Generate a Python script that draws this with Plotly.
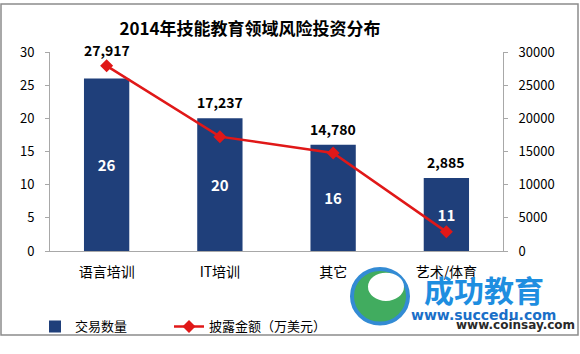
import plotly.graph_objects as go

categories = ["语言培训", "IT培训", "其它", "艺术/体育"]
deal_counts = [26, 20, 16, 11]
amounts = [27917, 17237, 14780, 2885]

FONT = "Noto Sans CJK SC"
BAR_COLOR = "#1F3F7A"
LINE_COLOR = "#E01818"

# plot area in pixels
L, R, T, B = 50, 503, 52, 263
W, H = 580, 354
def px(x):
    return (x - L) / (R - L)
def py(y):
    return (B - y) / (B - T)

fig = go.Figure()
fig.add_trace(go.Bar(
    x=categories, y=deal_counts, name="交易数量",
    marker=dict(color=BAR_COLOR, line=dict(width=0)),
    text=[f"<b>{v}</b>" for v in deal_counts], textposition="inside",
    insidetextanchor="middle",
    textfont=dict(color="white", size=15, family=FONT),
    width=0.4, legend="legend",
))
fig.add_trace(go.Scatter(
    x=categories, y=amounts, name="披露金额（万美元）", yaxis="y2",
    mode="lines+markers",
    line=dict(color=LINE_COLOR, width=2.5),
    marker=dict(symbol="diamond", size=10, color=LINE_COLOR),
    legend="legend2",
))

annotations = []
for c, n, a in zip(categories, deal_counts, amounts):
    top = max(n * 1000, a)
    annotations.append(dict(
        x=c, y=top, xref="x", yref="y2", text=f"<b>{a:,}</b>",
        showarrow=False, yanchor="bottom", yshift=4,
        font=dict(size=14, color="black", family=FONT)))

annotations += [
    dict(text="<b>成功教育</b>", xref="paper", yref="paper", x=px(484), y=py(303),
         xanchor="center", yanchor="middle",
         showarrow=False, font=dict(size=30, color="#1E8EE0", family=FONT)),
    dict(text="<b>www.succedu.com</b>", xref="paper", yref="paper", x=px(483), y=py(331),
         xanchor="center", yanchor="middle",
         showarrow=False, font=dict(size=14, color="#1A6FC8", family="DejaVu Sans")),
    dict(text="<b>www.coinsay.com</b>", xref="paper", yref="paper", x=px(515), y=py(341),
         xanchor="center", yanchor="middle",
         showarrow=False, font=dict(size=12, color="#2A2A2A", family="DejaVu Sans")),
]

legend_common = dict(orientation="h", yanchor="middle", xanchor="left",
                     font=dict(size=13), bgcolor="rgba(0,0,0,0)", itemwidth=30)

fig.update_layout(
    width=W, height=H,
    margin=dict(l=L, r=W - R, t=T, b=H - B),
    paper_bgcolor="white", plot_bgcolor="white",
    font=dict(family=FONT, color="black"),
    title=dict(text="<b>2014年技能教育领域风险投资分布</b>", x=px(250), xref="paper",
               xanchor="center", y=1 - 29 / H, yanchor="middle",
               font=dict(size=17, family=FONT)),
    xaxis=dict(showline=True, linecolor="#A8A8A8", linewidth=1, ticks="",
               tickfont=dict(size=14), showgrid=False, ticklabelstandoff=8),
    yaxis=dict(range=[0, 30], dtick=5, showline=True, linecolor="#A8A8A8",
               ticks="outside", ticklen=4, tickcolor="#A8A8A8", showgrid=False,
               zeroline=False, tickfont=dict(size=13), ticklabelstandoff=8),
    yaxis2=dict(range=[0, 30000], dtick=5000, overlaying="y", side="right",
                tickformat="d",
                showline=True, linecolor="#A8A8A8", ticks="outside", ticklen=4,
                tickcolor="#A8A8A8", showgrid=False, zeroline=False,
                tickfont=dict(size=13), ticklabelstandoff=8),
    legend=dict(x=px(35), y=py(343), **legend_common),
    legend2=dict(x=px(169), y=py(343), **legend_common),
    showlegend=True,
    shapes=[
        dict(type="rect", xref="paper", yref="paper", x0=px(1), x1=px(578),
             y0=py(352), y1=py(1), line=dict(color="#8C8C8C", width=1.5)),
        dict(type="circle", xref="paper", yref="paper", x0=px(352), x1=px(408),
             y0=py(340), y1=py(282), fillcolor="#2DA44E", line=dict(color="#1E7FD0", width=4),
             opacity=0.9),
        dict(type="circle", xref="paper", yref="paper", x0=px(368), x1=px(404),
             y0=py(316), y1=py(286), fillcolor="white", line=dict(width=0)),
    ],
    annotations=annotations,
)
fig.write_html("out.html")
